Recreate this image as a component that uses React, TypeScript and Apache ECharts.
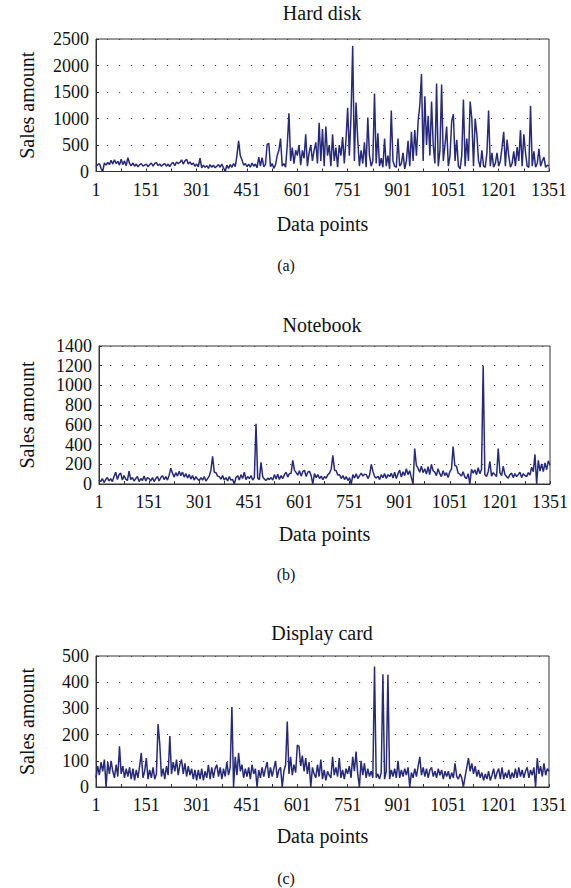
import React, { useEffect, useRef } from "react";
import * as echarts from "echarts";

// sampled every 5 data points (x index = 0, 5, 10, ... 1350; label shows index + 1)
const SAMPLE_STEP = 5;

const hardDisk = [
  90, 130, 150, 60, 0, 160, 120, 170, 130, 210,
  140, 220, 150, 190, 120, 230, 130, 200, 110, 260,
  150, 110, 160, 100, 140, 90, 130, 150, 100, 120,
  140, 90, 130, 160, 100, 150, 170, 110, 140, 100,
  130, 150, 100, 140, 90, 150, 170, 110, 180, 150,
  170, 220, 140, 200, 230, 140, 180, 130, 160, 100,
  140, 90, 250, 70, 120, 80, 110, 60, 130, 80,
  120, 70, 100, 130, 80, 140, 70, 0, 120, 60,
  130, 80, 150, 90, 300, 580, 300, 220, 120, 150,
  90, 140, 80, 160, 100, 140, 70, 270, 100, 260,
  90, 130, 510, 530, 90, 150, 60, 130, 300, 400,
  620, 100, 150, 80, 500, 1100, 200, 450, 150, 400,
  300, 500, 120, 400, 250, 700, 100, 350, 500, 200,
  400, 550, 150, 920, 200, 800, 100, 850, 300, 500,
  100, 700, 200, 450, 80, 500, 300, 650, 150, 600,
  1200, 300, 1050, 2370, 200, 1300, 600, 100, 400, 150,
  550, 80, 1020, 300, 100, 200, 1470, 150, 720, 100,
  250, 80, 620, 100, 300, 50, 1150, 200, 100, 80,
  620, 100, 150, 350, 50, 200, 580, 100, 750, 200,
  780, 300, 950, 1250, 1840, 200, 1420, 500, 1050, 300,
  1320, 500, 150, 1660, 100, 400, 1640, 200, 500, 850,
  100, 300, 950, 1080, 200, 600, 100, 50, 300, 1360,
  100, 620, 200, 1320, 1000, 100, 1000, 700, 200, 80,
  400, 100, 80, 350, 1150, 100, 350, 80, 150, 350,
  100, 200, 450, 750, 100, 600, 300, 80, 150, 380,
  100, 460, 200, 780, 100, 700, 350, 100, 80, 1240,
  100, 380, 80, 150, 430, 100, 200, 270, 80, 120, 100,
];

const notebook = [
  40, 25, 55, 15, 45, 65, 30, 55, 25, 75,
  120, 45, 95, 110, 40, 85, 50, 35, 130, 45,
  65, 30, 55, 75, 25, 55, 35, 80, 30, 65,
  55, 30, 65, 25, 55, 75, 30, 65, 85, 45,
  75, 40, 90, 160, 110, 70, 115, 80, 130, 85,
  120, 70, 105, 60, 95, 50, 85, 40, 75, 50,
  35, 65, 40, 75, 30, 55, 80, 140, 280, 120,
  115, 80, 75, 50, 85, 40, 65, 30, 75, 40,
  45, 0, 65, 85, 40, 95, 55, 120, 45, 75,
  55, 85, 40, 65, 610, 60, 45, 220, 75, 50,
  35, 60, 45, 65, 40, 95, 50, 100, 45, 85,
  55, 95, 120, 70, 105, 110, 240, 140, 115, 90,
  135, 80, 125, 140, 75, 120, 130, 85, 0, 105,
  65, 95, 55, 80, 45, 75, 60, 95, 110, 150,
  290, 140, 135, 90, 95, 55, 85, 45, 75, 35,
  65, 0, 95, 60, 105, 55, 85, 110, 80, 100,
  95, 55, 90, 200, 130, 75, 60, 80, 45, 95,
  65, 105, 55, 95, 75, 110, 60, 120, 55, 105,
  140, 70, 125, 85, 155, 95, 135, 65, 0, 360,
  190, 160, 120, 180, 115, 155, 100, 175, 95, 200,
  135, 120, 85, 155, 105, 75, 135, 85, 115, 65,
  125, 150, 380, 190, 180, 110, 100, 80, 125, 70,
  55, 105, 0, 150, 110, 145, 95, 165, 105, 150,
  1200, 95, 75, 125, 230, 80, 115, 95, 75, 360,
  115, 85, 180, 95, 75, 60, 95, 110, 65, 105,
  75, 95, 120, 65, 105, 85, 75, 115, 90, 170,
  125, 300, 0, 240, 130, 205, 125, 215, 145, 235, 190,
];

const displayCard = [
  35, 80, 45, 95, 60, 105, 0, 95, 50, 100,
  60, 35, 85, 40, 155, 50, 80, 35, 70, 40,
  75, 30, 70, 25, 65, 35, 80, 130, 35, 60,
  110, 30, 65, 35, 75, 30, 50, 240, 165, 40,
  70, 30, 80, 45, 195, 50, 95, 60, 105, 45,
  85, 105, 50, 90, 40, 80, 45, 70, 30, 65,
  25, 65, 30, 70, 25, 60, 35, 85, 30, 75,
  35, 70, 85, 40, 75, 30, 70, 40, 95, 45,
  75, 305, 0, 115, 45, 130, 60, 85, 35, 70,
  40, 75, 30, 85, 50, 70, 0, 65, 35, 75,
  40, 70, 95, 35, 75, 40, 70, 100, 35, 65,
  75, 0, 60, 85, 250, 50, 115, 45, 85, 55,
  160, 155, 80, 120, 60, 110, 50, 95, 0, 75,
  50, 35, 85, 40, 105, 30, 65, 25, 60, 45,
  35, 115, 45, 75, 40, 110, 35, 65, 30, 70,
  50, 80, 35, 115, 60, 135, 50, 0, 100, 45,
  90, 35, 70, 40, 60, 35, 460, 35, 50, 30,
  55, 430, 30, 60, 428, 30, 65, 40, 70, 35,
  100, 35, 65, 40, 70, 45, 75, 0, 55, 35,
  70, 40, 80, 115, 45, 75, 40, 70, 35, 65,
  75, 40, 60, 35, 70, 45, 65, 30, 60, 40,
  60, 30, 55, 35, 90, 40, 30, 50, 35, 0,
  40, 75, 110, 60, 90, 50, 80, 40, 65, 35,
  55, 25, 50, 30, 60, 25, 45, 70, 30, 55,
  70, 30, 75, 30, 55, 35, 65, 30, 55, 35,
  70, 35, 75, 40, 65, 35, 60, 75, 35, 65,
  45, 75, 0, 110, 50, 80, 40, 90, 45, 70, 60,
];

const panelTitles = ["Hard disk", "Notebook", "Display card"];
const panelCaptions = ["(a)", "(b)", "(c)"];
const yMaxes = [2500, 1400, 500];
const yIntervals = [500, 200, 100];
const xMax = 1350;
const xTickInterval = 75;
const xLabelEvery = 150;
const xAxisName = "Data points";
const yAxisName = "Sales amount";

const FONT = '"Liberation Serif", "Times New Roman", serif';
const LINE_COLOR = "#272a7a";

export default function App() {
  const ref = useRef<HTMLDivElement>(null);

  useEffect(() => {
    if (!ref.current) return;
    const chart = echarts.init(ref.current, undefined, { renderer: "svg" });

    const seriesData = [hardDisk, notebook, displayCard];
    const grids = [
      { left: 96, right: 22, top: 39, height: 132.5 },
      { left: 99, right: 19, top: 346, height: 138 },
      { left: 96, right: 22, top: 656, height: 131 },
    ];
    const titleY = [13, 325, 633];
    const captionY = [265, 574, 878];
    const yNameGap = [59, 62, 59];
    const xNameGap = [42, 40, 39];

    const option: any = {
      animation: false,
      backgroundColor: "#ffffff",
      grid: grids.map((g) => ({
        ...g,
        show: true,
        borderColor: "#333",
        borderWidth: 1,
        backgroundColor: "transparent",
      })),
      xAxis: grids.map((_, i) => ({
        type: "value",
        gridIndex: i,
        min: 0,
        max: xMax,
        interval: xTickInterval,
        name: xAxisName,
        nameLocation: "middle",
        nameGap: xNameGap[i],
        nameTextStyle: { fontFamily: FONT, fontSize: 20, color: "#111" },
        axisLine: { show: true, onZero: false, lineStyle: { color: "#333", width: 1 } },
        axisTick: { show: true, inside: true, length: 3, lineStyle: { color: "#333" } },
        axisLabel: {
          show: true,
          margin: 9,
          fontFamily: FONT,
          fontSize: 18,
          color: "#111",
          formatter: (v: number) => (v % xLabelEvery === 0 ? String(v + 1) : ""),
        },
        splitLine: { show: false },
      })),
      yAxis: grids.map((_, i) => ({
        type: "value",
        gridIndex: i,
        min: 0,
        max: yMaxes[i],
        interval: yIntervals[i],
        name: yAxisName,
        nameLocation: "middle",
        nameGap: yNameGap[i],
        nameRotate: 90,
        nameTextStyle: { fontFamily: FONT, fontSize: 20, color: "#111" },
        axisLine: { show: true, lineStyle: { color: "#333", width: 1 } },
        axisTick: { show: true, inside: true, length: 3, lineStyle: { color: "#333" } },
        axisLabel: {
          margin: 7,
          fontFamily: FONT,
          fontSize: 18,
          color: "#111",
          formatter: (v: number) => String(v),
        },
        splitLine: {
          show: true,
          lineStyle: { color: "#444", width: 1.2, type: [1.2, 10.8], dashOffset: -11 },
        },
      })),
      series: seriesData.map((vals, i) => ({
        type: "line",
        xAxisIndex: i,
        yAxisIndex: i,
        showSymbol: false,
        symbol: "none",
        lineStyle: { color: LINE_COLOR, width: 1.5 },
        data: vals.map((v, k) => [k * SAMPLE_STEP, v]),
        z: 3,
      })),
      graphic: [
        ...panelTitles.map((t, i) => ({
          type: "text",
          x: 322,
          y: titleY[i],
          style: {
            text: t,
            align: "center",
            verticalAlign: "middle",
            font: `20px ${FONT}`,
            fill: "#111",
          },
        })),
        ...panelCaptions.map((t, i) => ({
          type: "text",
          x: 286,
          y: captionY[i],
          style: {
            text: t,
            align: "center",
            verticalAlign: "middle",
            font: `16px ${FONT}`,
            fill: "#111",
          },
        })),
      ],
    };

    chart.setOption(option);
    return () => chart.dispose();
  }, []);

  return (
    <div
      ref={ref}
      style={{ position: "absolute", left: 0, top: 0, width: 571, height: 888, background: "#fff" }}
    />
  );
}
